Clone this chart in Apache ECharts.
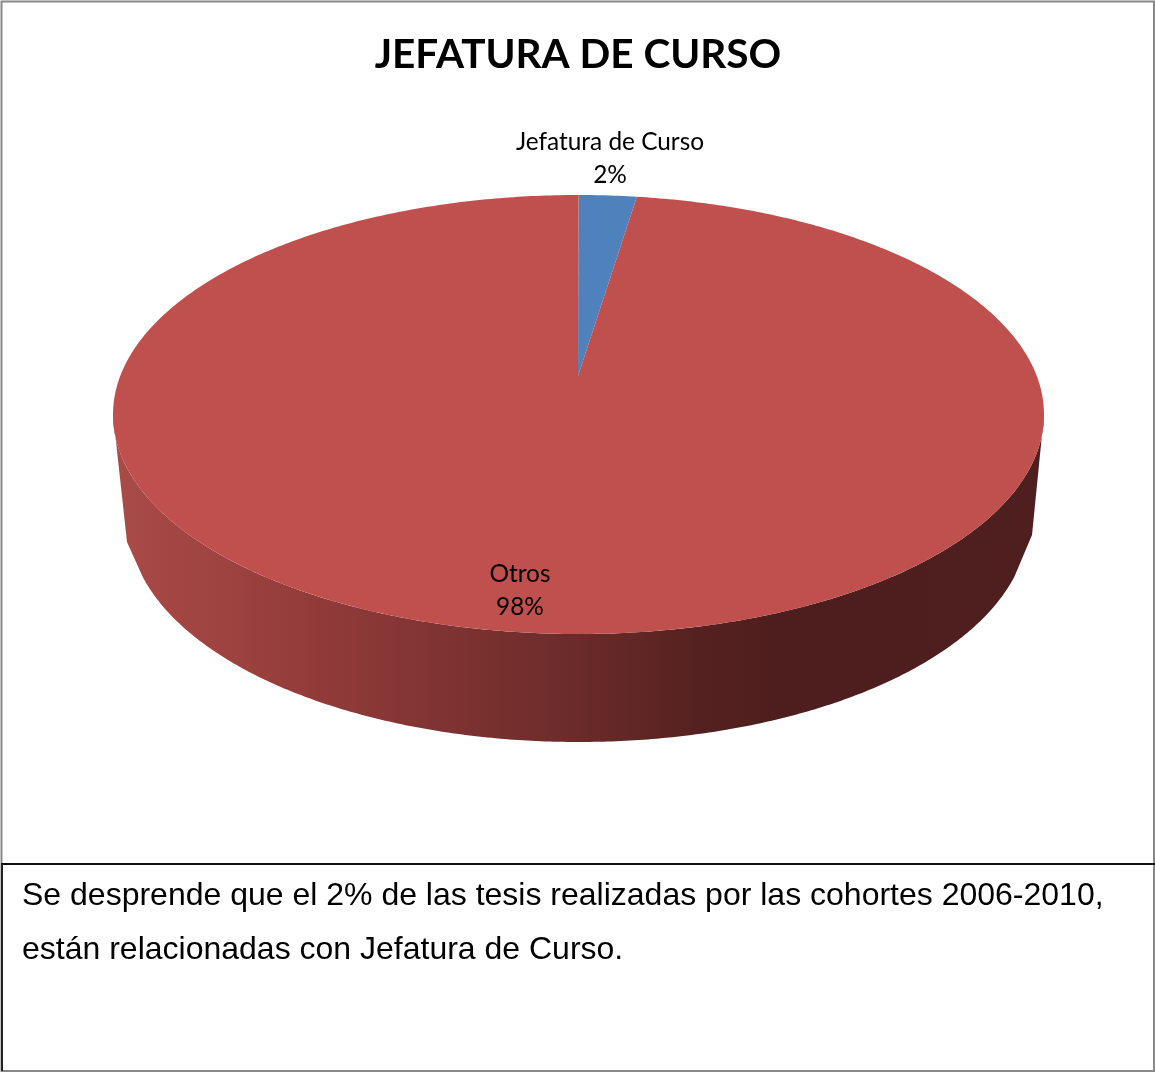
<!DOCTYPE html>
<html>
<head>
<meta charset="utf-8">
<style>html,body{margin:0;padding:0;background:#fff}#c{width:1155px;height:1072px}</style>
<script src="https://cdn.jsdelivr.net/npm/echarts@6/dist/echarts.min.js"></script>
</head>
<body>
<div id="c"></div>
<script>
const chartTitle = 'JEFATURA DE CURSO';
const categories = ['Jefatura de Curso', 'Otros'];
const values = [2, 98];
const noteLines = ['Se desprende que el 2% de las tesis realizadas por las cohortes 2006-2010,', 'están relacionadas con Jefatura de Curso.'];

const sliceColors = ['#4F81BD', '#C0504D'];
const labelAnchors = [[610, 159], [520, 591]];
const top3d = {cx: 578.5, cy: 414.5, rx: 465.5, ry: 219.5, apexX: 578, apexY: 376};
const base3d = {cx: 578.5, cy: 522, rx: 450, ry: 220, minY: 575, cornerL: [127, 542], cornerR: [1032, 535]};
const total = values.reduce((a, b) => a + b, 0);

function ell(e, t) { return [e.cx + e.rx * Math.sin(t), e.cy - e.ry * Math.cos(t)]; }
function arc(e, a, b) {
  const n = Math.max(2, Math.ceil(Math.abs(b - a) / 0.01)), pts = [];
  for (let i = 0; i <= n; i++) pts.push(ell(e, a + (b - a) * i / n));
  return pts;
}
const wallFill = {
  type: 'linear', x: 113, y: 0, x2: 1044, y2: 0, global: true,
  colorStops: [
    {offset: 0, color: '#AA4B48'},
    {offset: 0.115, color: '#9E4340'},
    {offset: 0.222, color: '#913B39'},
    {offset: 0.33, color: '#823533'},
    {offset: 0.5, color: '#6A2B2A'},
    {offset: 0.63, color: '#552120'},
    {offset: 0.72, color: '#4D1E1D'},
    {offset: 1, color: '#4E1F1E'}
  ]
};
function renderSlice(params, api) {
  const i = params.dataIndex;
  let before = 0;
  for (let k = 0; k < i; k++) before += values[k];
  const a = before / total * 2 * Math.PI;
  const b = (before + api.value(0)) / total * 2 * Math.PI;
  const children = [];
  const lo = Math.max(a, Math.PI / 2), hi = Math.min(b, Math.PI * 1.5);
  if (hi > lo) {
    const lowerEdge = arc(base3d, hi, lo).filter(p => p[1] >= base3d.minY);
    children.push({type: 'polygon', silent: true,
      shape: {points: arc(top3d, lo, hi).concat([base3d.cornerL], lowerEdge, [base3d.cornerR])},
      style: {fill: wallFill}});
  }
  return {type: 'group', children};
}
function renderTop(params, api) {
  const i = params.dataIndex;
  let before = 0;
  for (let k = 0; k < i; k++) before += values[k];
  const a = before / total * 2 * Math.PI;
  const b = (before + api.value(0)) / total * 2 * Math.PI;
  const pct = Math.round(api.value(0) / total * 100);
  return {type: 'group', children: [
    {type: 'polygon', shape: {points: [[top3d.apexX, top3d.apexY]].concat(arc(top3d, a, b))},
      style: {fill: sliceColors[i]}},
    {type: 'text', z2: 10, silent: true, x: labelAnchors[i][0], y: labelAnchors[i][1],
      style: {text: categories[i] + '\n' + pct + '%', fill: '#000', align: 'center', verticalAlign: 'middle',
        font: '24.4px Lato', lineHeight: 33}}
  ]};
}
const chart = echarts.init(document.getElementById('c'), null, {renderer: 'canvas'});
const rows = values.map(v => [v]);
chart.setOption({
  animation: false,
  backgroundColor: '#fff',
  series: [
    {type: 'custom', coordinateSystem: 'none', renderItem: renderSlice, data: rows, z: 1},
    {type: 'custom', coordinateSystem: 'none', renderItem: renderTop, data: rows, z: 2}
  ],
  graphic: [
    {type: 'rect', z: 5, silent: true, shape: {x: 1.5, y: 1.5, width: 1152.5, height: 1069.5}, style: {fill: 'none', stroke: '#888', lineWidth: 2}},
    {type: 'line', z: 6, silent: true, shape: {x1: 1, y1: 864, x2: 1155, y2: 864}, style: {stroke: '#111', lineWidth: 2}},
    {type: 'line', z: 6, silent: true, shape: {x1: 2, y1: 864, x2: 2, y2: 1071}, style: {stroke: '#222', lineWidth: 2}},
    {type: 'text', z: 7, silent: true, x: 578, y: 55, style: {text: chartTitle, fill: '#000', align: 'center', verticalAlign: 'middle', font: 'bold 40.5px Lato'}},
    {type: 'text', z: 7, silent: true, x: 22, y: 896, style: {text: noteLines[0], fill: '#000', align: 'left', verticalAlign: 'middle', font: '32px "Liberation Sans"'}},
    {type: 'text', z: 7, silent: true, x: 22, y: 950, style: {text: noteLines[1], fill: '#000', align: 'left', verticalAlign: 'middle', font: '32px "Liberation Sans"'}}
  ]
});
</script>
</body>
</html>
